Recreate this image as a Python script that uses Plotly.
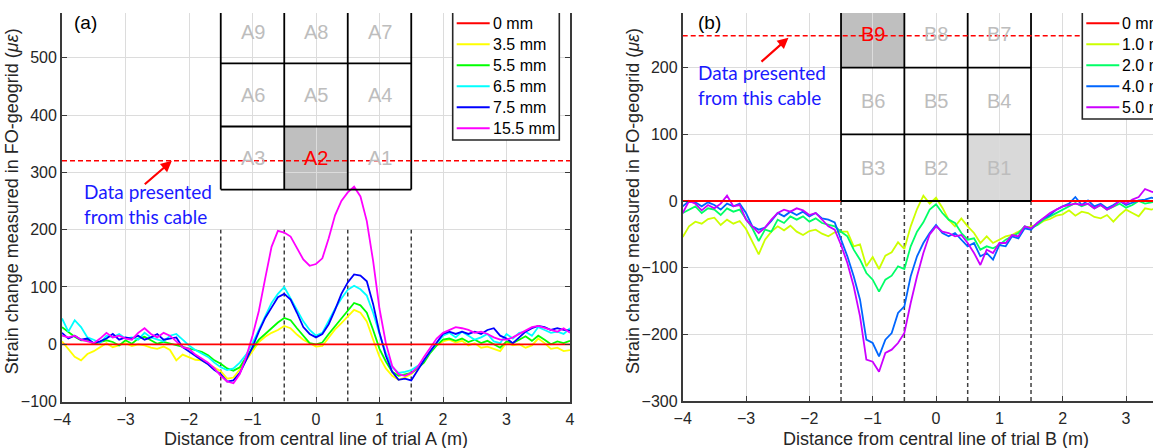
import plotly.graph_objects as go

W, H = 1153, 448

# ---------------- Trial A: cable under geogrid cell A2 ----------------
dist_a = [-4.0, -3.9, -3.8, -3.7, -3.6, -3.5, -3.4, -3.3, -3.2, -3.1,
          -3.0, -2.9, -2.8, -2.7, -2.6, -2.5, -2.4, -2.3, -2.2, -2.1,
          -2.0, -1.9, -1.8, -1.7, -1.6, -1.5, -1.4, -1.3, -1.2, -1.1,
          -1.0, -0.9, -0.8, -0.7, -0.6, -0.5, -0.4, -0.3, -0.2, -0.1,
          0.0, 0.1, 0.2, 0.3, 0.4, 0.5, 0.6, 0.7, 0.8, 0.9,
          1.0, 1.1, 1.2, 1.3, 1.4, 1.5, 1.6, 1.7, 1.8, 1.9,
          2.0, 2.1, 2.2, 2.3, 2.4, 2.5, 2.6, 2.7, 2.8, 2.9,
          3.0, 3.1, 3.2, 3.3, 3.4, 3.5, 3.6, 3.7, 3.8, 3.9,
          4.0]

strain_a_00 = [0] * len(dist_a)
strain_a_35 = [5, -8, -22, -28, -17, -12, -5, 2, -5, -2,
               2, -3, 0, -2, -6, -8, -4, -10, -28, -18,
               -23, -27, -28, -34, -40, -47, -60, -58, -44, -28,
               -10, 4, 13, 20, 25, 32, 28, 17, 8, 2,
               -4, -3, 12, 26, 37, 48, 60, 55, 40, 8,
               -22, -42, -55, -62, -58, -52, -42, -28, -12, -2,
               5, 8, 3, 6, -2, 2, -6, -4, -8, -12,
               3, -2, 0, -6, -2, 10, 2, -8, -6, -12,
               -10]
strain_a_55 = [30, 22, 13, 7, 7, 1, 4, 7, 4, -2,
               7, 1, 10, 13, 7, 1, 4, 1, -2, -5,
               -8, -10, -13, -19, -28, -34, -42, -46, -40, -22,
               -8, 8, 18, 28, 38, 46, 42, 28, 15, 2,
               0, 3, 18, 32, 45, 58, 72, 68, 55, 25,
               -8, -30, -48, -55, -52, -50, -42, -32, -15, -2,
               8, 10, 6, 10, 4, 8, 2, 6, 0, -6,
               5, 2, 8, 14, 6, 15, 8, 0, 5, 2,
               6]
strain_a_65 = [45, 22, 42, 30, 12, 8, 2, 15, 12, 18,
               10, 12, 8, 20, 12, 8, 5, 15, 18, 8,
               -2, -10, -16, -22, -32, -40, -45, -42, -32, -18,
               2, 25, 50, 72, 88, 100, 80, 60, 40, 25,
               15, 20, 42, 62, 80, 95, 102, 96, 85, 55,
               18, -15, -40, -50, -48, -45, -38, -28, -12, 2,
               15, 20, 12, 22, 15, 8, 12, 18, 5, 2,
               18, 10, 20, 22, 15, 30, 25, 20, 22, 18,
               28]
strain_a_75 = [20, 10, 15, 8, 10, 2, 5, 10, 18, 8,
               12, 10, 15, 8, 12, 18, 8, 10, 12, -5,
               -12, -20, -28, -35, -45, -52, -65, -63, -50, -28,
               -5, 22, 46, 64, 82, 88, 78, 55, 30, 18,
               12, 18, 35, 60, 88, 108, 122, 120, 110, 70,
               20, -20, -48, -62, -60, -63, -45, -28, -12, 2,
               18, 22, 18, 22, 18, 22, 18, 25, 28, 15,
               10, 2, 12, 22, 28, 32, 30, 25, 28, 25,
               24]
strain_a_155 = [15, 12, 15, 8, 5, 2, 10, 20, 12, 15,
                10, 8, 20, 28, 18, 12, 20, 15, 5, -5,
                -8, -18, -25, -32, -42, -55, -65, -68, -52, -22,
                15, 58, 115, 170, 198, 195, 188, 168, 148, 137,
                140, 150, 185, 225, 250, 265, 275, 258, 215, 145,
                62, 2, -38, -52, -55, -50, -40, -22, -5, 10,
                20, 25, 30, 28, 25, 20, 22, 18, 12, 8,
                8, 12, 18, 25, 30, 32, 28, 25, 22, 28,
                20]

labels_a = ["0 mm", "3.5 mm", "5.5 mm", "6.5 mm", "7.5 mm", "15.5 mm"]
colors_a = ["#ff0000", "#ffff00", "#00ff00", "#00ffff", "#0000ff", "#ff00ff"]
series_a = [strain_a_00, strain_a_35, strain_a_55, strain_a_65, strain_a_75, strain_a_155]

# ---------------- Trial B: cable under geogrid cell B9 ----------------
dist_b = [-4.0, -3.9, -3.8, -3.7, -3.6, -3.5, -3.4, -3.3, -3.2, -3.1,
          -3.0, -2.9, -2.8, -2.7, -2.6, -2.5, -2.4, -2.3, -2.2, -2.1,
          -2.0, -1.9, -1.8, -1.7, -1.6, -1.5, -1.4, -1.3, -1.2, -1.1,
          -1.0, -0.9, -0.8, -0.7, -0.6, -0.5, -0.4, -0.3, -0.2, -0.1,
          0.0, 0.1, 0.2, 0.3, 0.4, 0.5, 0.6, 0.7, 0.8, 0.9,
          1.0, 1.1, 1.2, 1.3, 1.4, 1.5, 1.6, 1.7, 1.8, 1.9,
          2.0, 2.1, 2.2, 2.3, 2.4, 2.5, 2.6, 2.7, 2.8, 2.9,
          3.0, 3.1, 3.2, 3.3, 3.4, 3.5]

strain_b_00 = [0] * len(dist_b)
strain_b_10 = [-54, -38, -31, -34, -27, -25, -36, -28, -34, -30,
               -42, -62, -80, -58, -46, -38, -44, -37, -46, -51,
               -45, -43, -49, -53, -47, -46, -46, -68, -65, -98,
               -84, -102, -82, -77, -62, -72, -38, -12, 8, -4,
               5, -10, -28, -38, -26, -38, -48, -63, -53, -63,
               -58, -53, -51, -46, -41, -38, -36, -30, -27, -22,
               -20, -14, -22, -16, -18, -24, -26, -21, -31, -21,
               -13, -18, -23, -11, -13, -10]
strain_b_20 = [-18, -13, -8, -18, -11, -13, -21, -11, -16, -13,
               -28, -41, -60, -43, -46, -28, -33, -23, -28, -23,
               -31, -26, -33, -36, -38, -46, -53, -73, -88, -108,
               -118, -136, -118, -112, -98, -102, -68, -46, -32, -13,
               -5, -18, -28, -33, -48, -58, -56, -73, -68, -71,
               -66, -58, -53, -48, -38, -41, -36, -28, -23, -18,
               -12, -8, -3, -8, -4, -11, -6, -13, -8, -4,
               -10, -6, 0, -4, -2, 0]
strain_b_40 = [-8, 0, -2, -8, -2, -6, -13, -4, -8, -4,
               -18, -38, -43, -40, -30, -18, -23, -16, -21, -16,
               -23, -18, -26, -28, -32, -58, -83, -113, -148, -208,
               -213, -233, -208, -198, -168, -158, -113, -83, -63, -48,
               -36, -48, -53, -48, -58, -68, -63, -83, -78, -88,
               -66, -68, -53, -56, -41, -43, -33, -26, -21, -13,
               -8, -4, 6, -6, 1, -8, -4, -11, -6, 0,
               -6, -3, 1, 2, 5, 3]
strain_b_50 = [-18, 0, -4, -14, -6, -11, -4, 8, -8, -6,
               -28, -38, -48, -40, -28, -18, -13, -16, -11, -14,
               -21, -18, -28, -38, -43, -66, -93, -128, -173, -238,
               -241, -256, -228, -223, -213, -198, -153, -113, -78, -50,
               -38, -46, -48, -53, -51, -63, -78, -96, -73, -78,
               -63, -63, -51, -53, -38, -41, -33, -26, -18, -13,
               -8, -6, -4, -6, -4, -11, -6, -13, -8, 0,
               -4, 2, 6, 18, 14, 12]

labels_b = ["0 mm", "1.0 mm", "2.0 mm", "4.0 mm", "5.0 mm"]
colors_b = ["#ff0000", "#ccff00", "#00ff66", "#0066ff", "#cc00ff"]
series_b = [strain_b_00, strain_b_10, strain_b_20, strain_b_40, strain_b_50]

# ---------------- geogrid layout (3 x 3 cells) ----------------
col_edges = [-1.5, -0.5, 0.5, 1.5]
row_edges_a = [270, 380, 490, 600]
row_edges_b = [0, 100, 200, 300]
cell_names_a = [["A3", "A2", "A1"], ["A6", "A5", "A4"], ["A9", "A8", "A7"]]
cell_names_b = [["B3", "B2", "B1"], ["B6", "B5", "B4"], ["B9", "B8", "B7"]]
cable_cell_a = "A2"
cable_cell_b = "B9"
cable_level_a = 320
cable_level_b = 248

FONT = "Liberation Sans, Arial, sans-serif"
AXC = "#262626"


def px(x):
    return x / W


def py(y):
    return 1 - y / H


fig = go.Figure()

# traces: non-zero settlements first, 0 mm reference on top
for vals, name, col in list(zip(series_a, labels_a, colors_a))[1:] + [(series_a[0], labels_a[0], colors_a[0])]:
    fig.add_trace(go.Scatter(x=dist_a, y=vals, name=name, mode="lines",
                             line=dict(color=col, width=1.8), xaxis="x", yaxis="y"))
for vals, name, col in list(zip(series_b, labels_b, colors_b))[1:] + [(series_b[0], labels_b[0], colors_b[0])]:
    fig.add_trace(go.Scatter(x=dist_b, y=vals, name=name, mode="lines",
                             line=dict(color=col, width=1.8), xaxis="x2", yaxis="y2"))

shapes = []
annotations = []


def add_grid(xr, yr, rows, shaded, ymin, ytop_dash):
    # shaded cells
    for (r, c, fillc) in shaded:
        shapes.append(dict(type="rect", xref=xr, yref=yr, layer="below",
                           x0=col_edges[c], x1=col_edges[c + 1],
                           y0=rows[r], y1=rows[r + 1],
                           fillcolor=fillc, line=dict(width=0)))
    # dashed extensions of the cell boundaries down to the axis
    for cx in col_edges:
        shapes.append(dict(type="line", xref=xr, yref=yr, layer="between",
                           x0=cx, x1=cx, y0=ymin, y1=ytop_dash,
                           line=dict(color="#404040", width=1.5, dash="4px,3px")))
    # cell borders
    for cx in col_edges:
        shapes.append(dict(type="line", xref=xr, yref=yr, layer="above",
                           x0=cx, x1=cx, y0=rows[0], y1=rows[-1],
                           line=dict(color="black", width=1.8)))
    for ry in rows[:-1]:
        shapes.append(dict(type="line", xref=xr, yref=yr, layer="above",
                           x0=col_edges[0], x1=col_edges[-1], y0=ry, y1=ry,
                           line=dict(color="black", width=1.8)))


add_grid("x", "y", row_edges_a, [(0, 1, "#bfbfbf")], -100, 200)
add_grid("x2", "y2", row_edges_b, [(2, 0, "#bfbfbf"), (0, 2, "#d9d9d9")], -300, 0)

for xr, yr, rows, names, cable in (("x", "y", row_edges_a, cell_names_a, cable_cell_a),
                                   ("x2", "y2", row_edges_b, cell_names_b, cable_cell_b)):
    for r in range(3):
        for c in range(3):
            nm = names[r][c]
            annotations.append(dict(
                xref=xr, yref=yr, x=(col_edges[c] + col_edges[c + 1]) / 2,
                y=(rows[r] + rows[r + 1]) / 2, text=nm, showarrow=False,
                font=dict(family=FONT, size=20,
                          color="#ff0000" if nm == cable else "#bdbdbd")))

# cable position lines
shapes.append(dict(type="line", xref="x", yref="y", layer="above",
                   x0=-4, x1=4, y0=cable_level_a, y1=cable_level_a,
                   line=dict(color="#ff0000", width=1.5, dash="5px,3px")))
shapes.append(dict(type="line", xref="x2", yref="y2", layer="above",
                   x0=-4, x1=4, y0=cable_level_b, y1=cable_level_b,
                   line=dict(color="#ff0000", width=1.5, dash="5px,3px")))

# cable callouts
for xr, yr, tx, ty, hx, hy, ax_, ay_ in (("x", "y", -3.68, 245, -2.27, cable_level_a, -2.72, 277),
                                          ("x2", "y2", -3.79, 174, -2.33, cable_level_b - 3, -2.78, 207)):
    annotations.append(dict(xref=xr, yref=yr, x=tx, y=ty, xanchor="left", yanchor="middle",
                            align="left", showarrow=False,
                            text="Data presented<br>from this cable",
                            font=dict(family="Lato, sans-serif", size=19, color="#1a1aff")))
    annotations.append(dict(xref=xr, yref=yr, x=hx, y=hy, axref=xr, ayref=yr,
                            ax=ax_, ay=ay_, text="", showarrow=True, arrowhead=2,
                            arrowsize=1, arrowwidth=2.2, arrowcolor="#ff0000", standoff=0))


# legends (boxes whose top runs past the top of the axes)
def add_legend(x0, x1, ybot, labels, colors):
    shapes.append(dict(type="rect", xref="paper", yref="paper", layer="above",
                       x0=px(x0), x1=px(x1), y0=py(ybot), y1=py(13),
                       fillcolor="white", line=dict(width=0)))
    shapes.append(dict(type="path", xref="paper", yref="paper", layer="above",
                       path=f"M {px(x0)},{py(13)} L {px(x0)},{py(ybot)} L {px(x1)},{py(ybot)} L {px(x1)},{py(13)}",
                       line=dict(color=AXC, width=1.6)))
    for k, (lab, col) in enumerate(zip(labels, colors)):
        yy = 23.3 + 21 * k
        shapes.append(dict(type="line", xref="paper", yref="paper", layer="above",
                           x0=px(x0 + 4), x1=px(x0 + 37), y0=py(yy), y1=py(yy),
                           line=dict(color=col, width=2)))
        annotations.append(dict(xref="paper", yref="paper", x=px(x0 + 38), y=py(yy),
                                xanchor="left", yanchor="middle", text=lab, showarrow=False,
                                font=dict(family=FONT, size=16, color="black")))


add_legend(452.7, 559.3, 140, labels_a, colors_a)
add_legend(1082.3, 1190, 119, labels_b, colors_b)

# panel tags
annotations.append(dict(xref="paper", yref="paper", x=px(72), y=py(23), xanchor="left",
                        yanchor="middle", text="(a)", showarrow=False,
                        font=dict(family=FONT, size=19, color="black")))
annotations.append(dict(xref="paper", yref="paper", x=px(696), y=py(23), xanchor="left",
                        yanchor="middle", text="(b)", showarrow=False,
                        font=dict(family=FONT, size=19, color="black")))

# axis titles
ytitle = "Strain change measured in FO-geogrid (<i>με</i>)"
annotations.append(dict(xref="paper", yref="paper", x=px(316), y=py(439),
                        text="Distance from central line of trial A (m)", showarrow=False,
                        xanchor="center", yanchor="middle",
                        font=dict(family=FONT, size=18, color=AXC)))
annotations.append(dict(xref="paper", yref="paper", x=px(936), y=py(439),
                        text="Distance from central line of trial B (m)", showarrow=False,
                        xanchor="center", yanchor="middle",
                        font=dict(family=FONT, size=18, color=AXC)))
annotations.append(dict(xref="paper", yref="paper", x=px(12.3), y=py(201), textangle=-90,
                        text=ytitle, showarrow=False, xanchor="center", yanchor="middle",
                        font=dict(family=FONT, size=18, color=AXC)))
annotations.append(dict(xref="paper", yref="paper", x=px(633), y=py(201), textangle=-90,
                        text=ytitle, showarrow=False, xanchor="center", yanchor="middle",
                        font=dict(family=FONT, size=18, color=AXC)))

axis_common = dict(showgrid=True, gridcolor="#dcdcdc", gridwidth=1, zeroline=False,
                   showline=True, linecolor="#3a3a3a", linewidth=1.8,
                   ticks="inside", ticklen=5, tickwidth=1.2, tickcolor="#3a3a3a",
                   automargin=False,
                   tickfont=dict(family=FONT, size=16, color=AXC))

fig.update_layout(
    width=W, height=H,
    margin=dict(l=0, r=0, t=0, b=0, autoexpand=False),
    paper_bgcolor="white", plot_bgcolor="white", showlegend=False,
    xaxis=dict(domain=[px(62), px(570)], range=[-4, 4], anchor="y",
               tickvals=[-4, -3, -2, -1, 0, 1, 2, 3, 4], mirror=False,
               ticklabelstandoff=2, **axis_common),
    yaxis=dict(domain=[py(401.6), py(13)], range=[-100, 578], anchor="x",
               tickvals=[-100, 0, 100, 200, 300, 400, 500], mirror="ticks", **axis_common),
    xaxis2=dict(domain=[px(682.7), 1.0], range=[-4, 3.426], anchor="y2",
                tickvals=[-4, -3, -2, -1, 0, 1, 2, 3], mirror=False,
                ticklabelstandoff=2, **axis_common),
    yaxis2=dict(domain=[py(401), py(13)], range=[-300, 282], anchor="x2",
                tickvals=[-300, -200, -100, 0, 100, 200], mirror=False, **axis_common),
    shapes=shapes, annotations=annotations,
)

fig.write_html("out.html")
